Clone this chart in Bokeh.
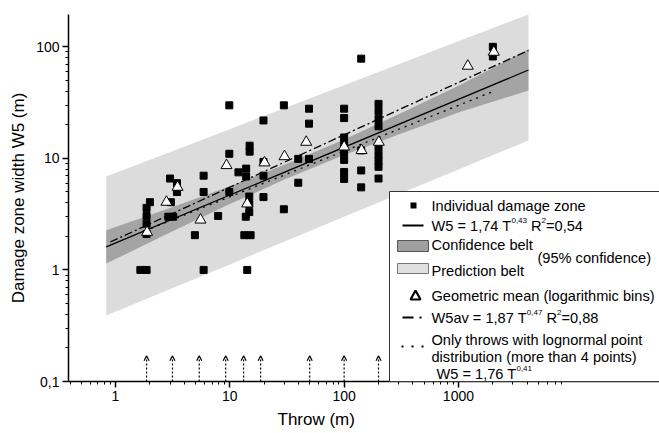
from bokeh.plotting import figure
from bokeh.models import (FixedTicker, CustomJSTickFormatter, Label, BoxAnnotation, Title,
                          PolyAnnotation, Arrow, OpenHead, ColumnDataSource, Range1d)
from bokeh.embed import file_html
from bokeh.resources import INLINE

# ---------------- data ----------------
# individual damage zones: throw T (m), width W5 (m)
dz_T = [1.65, 1.87, 1.87, 1.87, 1.87, 1.87, 2.0,
        3.0, 3.45, 3.45, 3.05, 2.9, 3.2,
        5.9, 5.9, 4.95, 5.9, 7.9,
        9.9, 9.9, 9.9,
        11.9, 13.9, 13.9, 14.9, 14.9, 14.8, 14.8, 14.8, 13.8, 13.4, 15.2, 14.2,
        19.7, 19.7, 19.7, 19.7,
        29.7, 29.7, 39.7, 39.7,
        49.3, 49.3, 49.3,
        100, 100, 100, 100, 100, 100, 100, 100,
        141, 141, 141, 141,
        200, 200, 200, 200, 200, 200, 200, 200, 200,
        2000, 2000]
dz_W = [1.0, 1.0, 2.1, 2.6, 3.05, 3.6, 4.05,
        6.6, 6.0, 5.0, 4.05, 3.0, 3.0,
        7.0, 5.0, 2.05, 1.0, 3.05,
        29.9, 11.0, 5.0,
        7.5, 8.1, 6.9, 13.0, 11.5, 4.55, 3.9, 3.3, 3.0, 2.05, 2.05, 1.0,
        21.9, 9.3, 7.0, 4.5,
        29.9, 3.5, 9.9, 6.05,
        27.9, 20.5, 9.9,
        27.9, 23.0, 15.4, 13.2, 11.3, 9.7, 7.56, 6.55,
        78.4, 11.8, 7.8, 5.5,
        30.8, 26.5, 22.6, 19.4, 12.5, 10.8, 9.5, 8.4, 6.6,
        100, 82]

# geometric means (logarithmic bins)
gm_T = [1.89, 2.79, 3.49, 5.54, 9.36, 14.2, 20.1, 30.1, 46.6, 100, 142, 201, 1208, 2040]
gm_W = [2.18, 4.06, 5.53, 2.81, 8.65, 3.92, 9.15, 10.4, 14.0, 12.7, 11.8, 14.0, 67.3, 89.8]

# confidence belt (95 %)
conf_T = [0.83, 3, 10, 30, 100, 300, 1000, 4100]
conf_lo = [1.14, 2.17, 3.9, 6.46, 10.7, 16.4, 25.8, 40.6]
conf_hi = [2.27, 3.6, 5.64, 8.75, 14.8, 24.9, 44.8, 95]

# prediction belt
pred_T = [0.83, 10, 100, 1000, 4100]
pred_lo = [0.39, 1.12, 3.0, 7.95, 14.5]
pred_hi = [6.9, 18.3, 45.3, 112, 195]

# fitted lines (end points)
fit_T = [0.83, 4100]      # W5 = 1,74 T^0,43
fit_W = [1.61, 62]
av_T = [0.9, 4100]        # W5av = 1,87 T^0,47
av_W = [1.78, 93]
ln_T = [1.8, 2000]        # W5 = 1,76 T^0,41
ln_W = [2.24, 39.7]

# throws with lognormal point distribution (arrows)
lognormal_T = [1.87, 3.15, 5.4, 9.2, 13.2, 18.6, 50, 100, 200]
arrow_base = 0.1
arrow_tip = 0.17

x_ticks = [1, 10, 100, 1000]
x_minor = [0.4, 0.5, 0.6, 0.7, 0.8, 0.9] + [2, 3, 4, 5, 6, 7, 8, 9] + \
          [20, 30, 40, 50, 60, 70, 80, 90] + [200, 300, 400, 500, 600, 700, 800, 900] + \
          [2000, 3000, 4000, 5000, 6000, 7000, 8000]
y_ticks = [0.1, 1, 10, 100]
y_minor = [0.2, 0.3, 0.4, 0.5, 0.6, 0.7, 0.8, 0.9, 2, 3, 4, 5, 6, 7, 8, 9,
           20, 30, 40, 50, 60, 70, 80, 90]

FONT = "Liberation Sans"
LEG = 14.6

# ---------------- figure ----------------
p = figure(width=659, height=433, x_axis_type="log", y_axis_type="log",
           x_range=Range1d(0.388, 57400), y_range=Range1d(0.1, 195),
           output_backend="svg", toolbar_location=None,
           min_border_left=68, min_border_right=0, min_border_top=14, min_border_bottom=52)
p.outline_line_color = None
p.xgrid.visible = False
p.ygrid.visible = False
p.background_fill_color = "white"
p.border_fill_color = "white"

fmt = CustomJSTickFormatter(code="return tick < 1 ? String(tick).replace('.', ',') : String(tick);")
p.xaxis.ticker = FixedTicker(ticks=x_ticks, minor_ticks=x_minor)
p.yaxis.ticker = FixedTicker(ticks=y_ticks, minor_ticks=y_minor)
for ax in (p.xaxis, p.yaxis):
    ax.formatter = fmt
    ax.axis_line_width = 1.5
    ax.axis_line_color = "black"
    ax.major_tick_line_width = 1.5
    ax.minor_tick_line_width = 1
    ax.major_tick_out = 6
    ax.major_tick_in = 0
    ax.minor_tick_out = 3
    ax.minor_tick_in = 0
    ax.major_label_text_font = FONT
    ax.major_label_text_font_size = "14px"
    ax.major_label_text_color = "black"
p.xaxis.major_label_standoff = 3
p.yaxis.major_label_standoff = 3

# axis titles (as titles so they can be placed like in the reference)
p.add_layout(Title(text="Throw (m)", align="left", offset=209, standoff=8,
                   text_font=FONT, text_font_size="17px", text_font_style="normal",
                   text_color="black"), "below")
p.add_layout(Title(text="Damage zone width W5 (m)", align="center", offset=-8, standoff=12,
                   text_font=FONT, text_font_size="17px", text_font_style="normal",
                   text_color="black"), "left")

# belts
p.varea(x=pred_T, y1=pred_lo, y2=pred_hi, fill_color="#dcdcdc")
p.varea(x=conf_T, y1=conf_lo, y2=conf_hi, fill_color="#a4a4a4")

# lines
p.line(fit_T, fit_W, line_color="black", line_width=1.3)
p.line(av_T, av_W, line_color="black", line_width=1.3, line_dash="8 3 2 3")
p.line(ln_T, ln_W, line_color="black", line_width=1.3, line_dash="2 5")

# points
p.scatter(dz_T, dz_W, marker="square", size=7, fill_color="black", line_color="black")
p.scatter(gm_T, gm_W, marker="triangle", size=11, fill_color="white",
          line_color="black", line_width=1)

# arrows
asrc = ColumnDataSource(dict(x=lognormal_T, y0=[arrow_base] * len(lognormal_T),
                             y1=[arrow_tip] * len(lognormal_T)))
p.add_layout(Arrow(end=OpenHead(size=5, line_width=1.2, line_color="black"),
                   x_start="x", y_start="y0", x_end="x", y_end="y1", source=asrc,
                   line_color="black", line_width=1.2, line_dash="2 2"))

# ---------------- legend (drawn by hand, screen px relative to frame) ----------------
FL, FB = 68, 381          # frame left / bottom in page pixels


def sx(x):
    return x - FL


def sy(y):
    return FB - y


ARIAL = {' ': 278, '(': 333, ')': 333, '%': 889, ',': 278, '.': 278, '=': 584,
         'A': 667, 'C': 722, 'D': 722, 'G': 778, 'I': 278, 'O': 778, 'P': 667,
         'R': 722, 'T': 611, 'W': 944,
         'a': 556, 'b': 556, 'c': 500, 'd': 556, 'e': 556, 'f': 278, 'g': 556, 'h': 556,
         'i': 222, 'l': 222, 'm': 833, 'n': 556, 'o': 556, 'p': 556, 'r': 333, 's': 500,
         't': 278, 'u': 556, 'v': 500, 'w': 722, 'y': 500, 'z': 500}


def tw(s, size):
    return sum(ARIAL.get(c, 556) for c in s) / 1000.0 * size


def label(text, x, y, size=LEG):
    p.add_layout(Label(x=sx(x), y=sy(y), x_units="screen", y_units="screen", text=text,
                       text_font=FONT, text_font_size=f"{size}px", text_color="black",
                       text_baseline="middle", text_align="left", level="overlay"))


def run(pieces, x0, y0):
    x = x0
    for text, size, rise in pieces:
        t = text.lstrip(" ")
        x += tw(text[:len(text) - len(t)], size)
        label(t, x, y0 - rise, size)
        x += tw(t, size)


def box(l, r, t, b, fill, line, lw=1):
    p.add_layout(BoxAnnotation(left=sx(l), right=sx(r), top=sy(t), bottom=sy(b),
                               left_units="screen", right_units="screen",
                               top_units="screen", bottom_units="screen",
                               fill_color=fill, fill_alpha=1, line_color=line,
                               line_width=lw, line_alpha=1 if line else 0, level="overlay"))


# legend frame
box(389, 700, 191, 381, "white", "#333333", 1)
# entries
box(410, 416, 202, 208, "black", None)
label("Individual damage zone", 431, 205)

box(402, 423, 224, 226, "black", None)
run([("W5 = 1,74 T", LEG, 0), ("0,43", 8, 5), (" R", LEG, 0), ("2", 8, 5), ("=0,54", LEG, 0)], 431, 225)

box(397, 428, 240, 251, "#a0a0a0", "#555555")
label("Confidence belt", 431, 244)
label("(95% confidence)", 537, 257)
box(397, 428, 263, 273, "#e0e0e0", "#777777")
label("Prediction belt", 431, 270)

p.add_layout(PolyAnnotation(xs=[sx(410), sx(420), sx(415)], ys=[sy(299), sy(299), sy(290)],
                            xs_units="screen", ys_units="screen", fill_color="white",
                            fill_alpha=1, line_color="black", line_alpha=1, line_width=2.2,
                            level="overlay"))
label("Geometric mean (logarithmic bins)", 431, 295)

box(402, 413, 316, 318, "black", None)
box(419, 421, 316, 318, "black", None)
run([("W5av = 1,87 T", LEG, 0), ("0,47", 8, 5), (" R", LEG, 0), ("2", 8, 5), ("=0,88", LEG, 0)], 431, 317)

for dx in (402, 412, 422):
    box(dx - 1, dx + 1, 345, 347, "black", None)
label("Only throws with lognormal point", 431, 339)
label("distribution (more than 4 points)", 431, 356)
run([("W5 = 1,76 T", LEG, 0), ("0,41", 8, 5)], 436, 373)

open("out.html", "w").write(file_html(p, INLINE))
